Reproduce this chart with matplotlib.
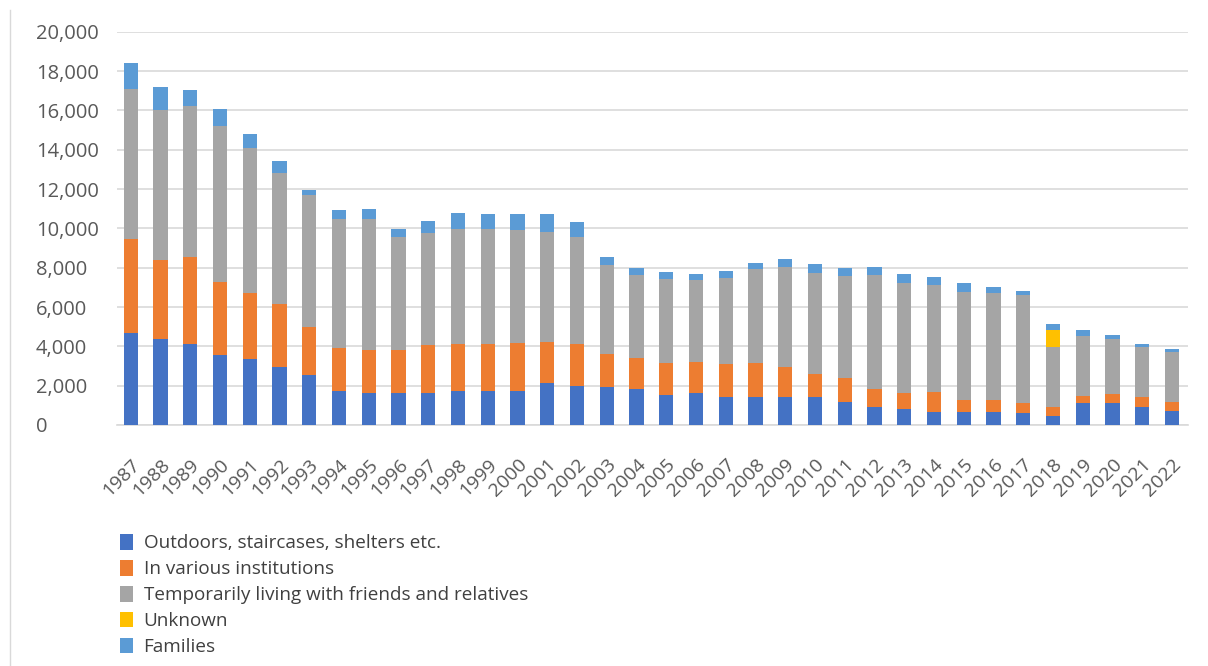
import matplotlib
matplotlib.use("Agg")
import matplotlib.pyplot as plt
from matplotlib.patches import Patch
from matplotlib.lines import Line2D
import numpy as np

years = [str(y) for y in range(1987, 2023)]

outdoors = [4700, 4350, 4100, 3550, 3350, 2950, 2550, 1750, 1650, 1650,
            1650, 1730, 1730, 1730, 2120, 2000, 1920, 1830, 1530, 1610,
            1440, 1440, 1410, 1400, 1190, 900, 800, 680, 680, 680,
            590, 475, 1110, 1136, 932, 700]
institutions = [4750, 4050, 4450, 3730, 3350, 3200, 2450, 2150, 2170, 2170,
                2420, 2390, 2390, 2450, 2120, 2120, 1690, 1560, 1640, 1610,
                1640, 1700, 1560, 1190, 1220, 910, 810, 1010, 590, 590,
                510, 423, 365, 460, 475, 487]
temporary = [7650, 7620, 7660, 7920, 7370, 6650, 6700, 6600, 6640, 5760,
             5680, 5830, 5830, 5730, 5590, 5420, 4530, 4240, 4250, 4150,
             4380, 4800, 5080, 5160, 5170, 5810, 5630, 5430, 5510, 5420,
             5510, 3085, 3050, 2800, 2576, 2542]
unknown = [0] * 31 + [860, 0, 0, 0, 0]
families = [1330, 1150, 850, 850, 730, 650, 260, 430, 530, 370,
            640, 850, 780, 810, 880, 760, 420, 340, 340, 290,
            390, 290, 390, 420, 420, 420, 420, 420, 420, 320,
            220, 290, 310, 170, 130, 120]

series = [
    ("Outdoors, staircases, shelters etc.", outdoors, "#4472C4"),
    ("In various institutions", institutions, "#ED7D31"),
    ("Temporarily living with friends and relatives", temporary, "#A5A5A5"),
    ("Unknown", unknown, "#FFC000"),
    ("Families", families, "#5B9BD5"),
]

plt.rcParams['font.family'] = ['Open Sans', 'DejaVu Sans']

fig = plt.figure(figsize=(12.08, 6.66), dpi=100)
ax = fig.add_axes([117/1208, 1 - 425/666, (1188 - 117)/1208, (425 - 31.7)/666])

x = np.arange(len(years))
bottom = np.zeros(len(years))
for name, vals, col in series:
    v = np.array(vals, dtype=float)
    ax.bar(x, v, bottom=bottom, width=0.48, color=col, label=name, zorder=3, linewidth=0)
    bottom += v

ax.set_xlim(-0.46, len(years) - 0.46)
ax.set_ylim(0, 20000)
ax.set_yticks(np.arange(0, 20001, 2000))
ax.set_yticklabels([f"{v:,}" for v in range(0, 20001, 2000)])
ax.yaxis.grid(True, color="#D9D9D9", linewidth=1.2, zorder=0)
ax.set_axisbelow(True)
for s in ax.spines.values():
    s.set_visible(False)
ax.spines['bottom'].set_visible(True)
ax.spines['bottom'].set_color("#D9D9D9")
ax.spines['bottom'].set_linewidth(1.2)

ax.tick_params(axis='y', length=0, pad=81 * 0.72, labelsize=14.5, labelcolor="#595959")
for t in ax.get_yticklabels():
    t.set_horizontalalignment('left')

ax.set_xticks(x)
ax.set_xticklabels(years, rotation=45, ha='right', rotation_mode='anchor',
                   fontsize=14, color="#595959")
ax.tick_params(axis='x', length=0, pad=22)

handles = [Patch(facecolor=c, edgecolor='none') for _, _, c in series]
labels = [n for n, _, _ in series]
fig.legend(handles, labels, loc='upper left', bbox_to_anchor=(120/1208, 1 - 534/666),
           frameon=False, fontsize=13.6, labelcolor="#404040",
           handlelength=0.7, handleheight=0.9, handletextpad=0.55,
           labelspacing=0.4, borderaxespad=0, borderpad=0)

fig.add_artist(Line2D([10/1208, 10/1208], [0, 1 - 10/666], transform=fig.transFigure,
                      color="#D9D9D9", linewidth=1.0))

fig.savefig("out.png", dpi=100)
